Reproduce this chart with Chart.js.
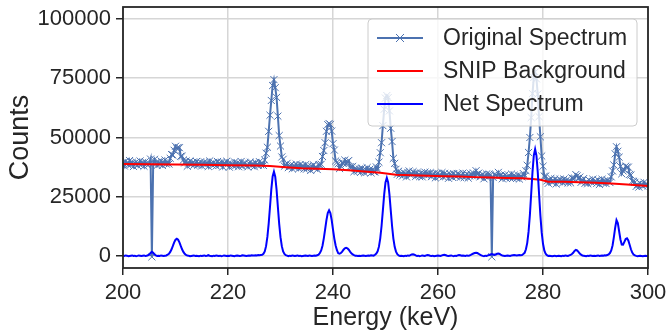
<!DOCTYPE html>
<html>
<head>
<meta charset="utf-8">
<script src="https://cdn.jsdelivr.net/npm/chart.js@4.4.1/dist/chart.umd.min.js"></script>
<style>
  html, body { margin: 0; padding: 0; background: #fff; }
  canvas { display: block; }
</style>
</head>
<body>
<canvas id="spectrumChart" width="669" height="333"></canvas>
<script>
// channel calibration: 200 keV + 0.25 keV per channel
const ENERGY_START = 200;
const ENERGY_STEP = 0.25;

// measured counts, one row = 5 keV (20 channels)
const ORIGINAL_COUNTS = [
  39300,38000,40000,39100,38400,40300,38600,39500,37800,39200,39700,38200,39000,40100,38500,39400,37900,39800,38900,38300,
  39000,40900,-300,39000,40800,39400,38200,39700,38800,40100,38200,39300,40500,38800,39600,38800,41200,42800,42600,44600,
  46300,45400,45800,45700,42100,42100,40500,39300,40100,37900,39200,40100,38600,39500,38300,38900,39900,38300,39100,39700,
  38000,39100,39700,38500,39400,37800,40100,39000,38300,39500,38800,38000,39900,39200,38400,39600,37600,39300,38900,40000,
  38900,37500,39200,38600,38000,39700,38200,39300,37700,38800,39900,37900,38700,39400,38300,37600,39100,39600,38100,39000,
  37700,39500,38600,38200,39800,38500,39300,38200,40500,43400,45900,52600,59400,65600,71900,74400,71000,66900,59000,50800,
  46400,41800,40800,37900,38500,39100,37300,38100,38400,36800,38100,37300,38800,38000,36900,38600,37400,38100,36800,38500,
  36800,38000,37400,36100,37700,38500,37100,37600,36500,38400,38400,38700,42000,44500,47800,52600,55400,55900,55500,52700,
  47400,44700,40100,39500,38900,36900,38000,39400,39100,40500,38900,39900,40300,37700,37500,37800,35600,37000,36700,35800,
  36700,35300,37100,36300,35100,36400,37300,35800,36600,35100,36500,35600,35500,37600,36600,39600,43600,47800,55000,61900,
  66600,67700,66800,61200,53900,48300,41200,39100,36600,34500,35800,34200,34900,33800,35200,34800,33400,35300,35900,34200,
  34500,35600,34900,33600,35200,34300,33500,35000,33400,34600,35400,34000,35100,34300,35200,33500,34400,34800,33000,34700,
  34900,33500,34000,35200,33400,34900,34000,34300,32800,34600,34300,33200,34800,33900,33500,34800,34700,33200,34000,35000,
  33100,33800,34700,32900,33800,34700,33900,35000,33800,36000,34500,35000,33400,34100,34400,32600,33800,34600,33300,34600,
  34200,-300,33200,34500,34000,33700,35300,33900,34200,32600,33600,34200,32800,33500,34000,32900,34600,32800,34100,33700,
  32800,34000,32500,33700,33400,34800,33700,36000,38300,43700,50000,58400,68500,75300,77600,74700,68300,58800,50300,42200,
  37900,33700,33700,31700,30700,32100,32800,31100,31800,32500,30400,32000,31500,32400,31700,30900,32500,31300,32100,30900,
  31800,30900,33000,32700,32900,34400,33800,32700,33300,31100,31900,32700,30700,31400,30500,32100,31600,31000,32400,31200,
  31600,30700,32100,30200,31300,32400,30800,31800,30600,32100,31400,31000,33400,35900,38400,43100,46100,44200,41700,37800,
  34700,35900,36400,37900,37500,37500,34400,34200,31600,31500,31100,29400,30200,29100,30800,30100,29500,31100,30000,30400,
  29700
];

const NET_COUNTS = [
  200,100,300,200,0,100,200,300,100,200,0,100,300,200,100,200,300,100,200,400,
  600,1300,1800,1400,700,300,100,200,100,300,200,100,200,300,600,1000,1800,2900,4300,5800,
  6900,7300,6900,5800,4300,2900,1800,1000,500,300,200,0,100,200,300,100,200,100,0,200,
  100,200,300,100,200,400,200,100,0,200,100,300,200,100,200,0,100,300,200,100,
  200,100,300,200,100,0,200,300,200,100,200,400,300,200,100,200,300,200,400,300,
  300,400,300,500,400,500,600,1000,2000,4200,8100,13700,20800,28100,33600,35600,33500,28000,20700,13600,
  8000,4200,2000,900,400,200,0,200,100,300,200,100,200,300,100,200,0,100,200,300,
  200,100,300,200,100,200,300,200,400,600,1300,2400,4400,7500,11300,15200,18200,19300,18200,15200,
  11200,7400,4500,2500,1200,1000,1300,1900,2700,3300,3500,3300,2700,1900,1200,700,400,200,200,100,
  200,100,200,300,200,100,200,300,200,400,300,200,600,1100,2000,4000,7500,12700,19300,26000,
  31100,33000,31100,26000,19300,12700,7400,3900,1900,800,300,100,200,100,0,200,100,300,200,400,
  700,800,600,300,100,200,0,100,300,200,100,300,500,400,200,100,200,0,100,200,
  300,200,100,300,500,600,400,200,100,200,300,100,0,200,100,300,500,400,200,300,
  200,100,300,200,300,500,800,1100,1300,1400,1300,1000,600,300,100,0,200,100,300,500,
  700,900,700,500,700,1000,1100,900,500,300,200,100,200,300,200,100,300,400,500,400,
  300,400,500,400,500,900,1400,2900,5600,10300,17300,26300,35500,42500,45100,42400,35400,26200,17200,10000,
  5200,2400,1000,400,100,200,100,0,100,200,0,100,200,100,0,200,100,300,200,100,
  300,500,900,1400,2200,2600,2400,1800,1100,600,300,200,100,0,200,100,300,200,100,200,
  100,200,300,100,200,300,200,400,300,500,700,1300,2400,4500,8000,12000,15200,14000,10500,7000,
  4900,4800,6000,7200,7500,6600,4800,2900,1500,700,300,100,0,100,200,100,0,100,200,100,
  0
];

// SNIP background estimate
const BG_ENERGY = [200, 205, 210, 215, 220, 225, 228, 231, 234, 237, 240, 243, 246, 249, 252, 255,
  258, 261, 264, 267, 270, 273, 276, 278, 279.5, 281, 284, 287, 290, 293, 296, 300];
const BG_COUNTS = [38800, 38750, 38650, 38500, 38350, 38200, 38000, 37500, 37000, 36800, 36600, 36200,
  35700, 35100, 34300, 34050, 33900, 33700, 33550, 33300, 33100, 32950, 32800, 32500, 32200, 31400,
  31300, 31100, 30900, 30650, 30200, 29550];

const X_TICKS = [200, 220, 240, 260, 280, 300];
const Y_TICKS = [0, 25000, 50000, 75000, 100000];
const LABELS = ["Original Spectrum", "SNIP Background", "Net Spectrum"];

const FONT = '"Liberation Sans", Arial, sans-serif';
const TEXT = "#262626";
const GRID = "#d6d6d6";
const ORIG_COLOR = "#4c72b0";

function toPoints(counts) {
  return counts.map((c, i) => ({ x: ENERGY_START + i * ENERGY_STEP, y: c }));
}

// box around the plot, like matplotlib spines
const framePlugin = {
  id: "frame",
  afterDatasetsDraw(chart) {
    const { ctx, chartArea: a } = chart;
    ctx.save();
    ctx.strokeStyle = TEXT;
    ctx.lineWidth = 1.8;
    ctx.strokeRect(a.left, a.top, a.right - a.left, a.bottom - a.top);
    ctx.restore();
  }
};

// legend box in the upper right corner
const legendPlugin = {
  id: "boxLegend",
  afterDraw(chart) {
    const { ctx, chartArea: a } = chart;
    const left = a.right - 280, top = a.top + 12, w = 269, h = 107;
    ctx.save();
    ctx.beginPath();
    ctx.roundRect(left, top, w, h, 4);
    ctx.fillStyle = "rgba(255,255,255,0.8)";
    ctx.fill();
    ctx.strokeStyle = "#cccccc";
    ctx.lineWidth = 1;
    ctx.stroke();

    chart.data.datasets.forEach((ds, i) => {
      const y = top + 19 + i * 33;
      ctx.strokeStyle = ds.borderColor;
      ctx.lineWidth = ds.borderWidth;
      ctx.beginPath();
      ctx.moveTo(left + 9, y);
      ctx.lineTo(left + 55, y);
      ctx.stroke();
      if (ds.pointRadius > 0) {
        const r = 4;
        ctx.lineWidth = 1;
        ctx.beginPath();
        ctx.moveTo(left + 32 - r, y - r); ctx.lineTo(left + 32 + r, y + r);
        ctx.moveTo(left + 32 - r, y + r); ctx.lineTo(left + 32 + r, y - r);
        ctx.stroke();
      }
      ctx.fillStyle = TEXT;
      ctx.font = "23px " + FONT;
      ctx.textBaseline = "middle";
      ctx.fillText(ds.label, left + 75, y + 1);
    });
    ctx.restore();
  }
};

const ctx = document.getElementById("spectrumChart").getContext("2d");
new Chart(ctx, {
  type: "line",
  data: {
    datasets: [
      {
        label: LABELS[0],
        data: toPoints(ORIGINAL_COUNTS),
        borderColor: ORIG_COLOR,
        borderWidth: 2,
        pointStyle: "crossRot",
        pointRadius: 5,
        pointBorderWidth: 1,
        pointBorderColor: ORIG_COLOR,
        order: 3
      },
      {
        label: LABELS[1],
        data: BG_ENERGY.map((e, i) => ({ x: e, y: BG_COUNTS[i] })),
        borderColor: "#ff0000",
        borderWidth: 2,
        pointRadius: 0,
        order: 2
      },
      {
        label: LABELS[2],
        data: toPoints(NET_COUNTS),
        borderColor: "#0000ff",
        borderWidth: 2,
        pointRadius: 0,
        order: 1
      }
    ]
  },
  options: {
    responsive: false,
    animation: false,
    events: [],
    layout: { padding: { left: 0, right: 21, top: 7, bottom: 0 } },
    plugins: { legend: { display: false }, tooltip: { enabled: false } },
    scales: {
      x: {
        type: "linear",
        min: 200,
        max: 300,
        afterBuildTicks: s => { s.ticks = X_TICKS.map(v => ({ value: v })); },
        afterFit: s => { s.height = 65; s.paddingLeft = 0; s.paddingRight = 0; },
        border: { display: false },
        grid: { color: GRID, lineWidth: 1.5, tickLength: 7, tickColor: TEXT, tickWidth: 1.5 },
        ticks: { color: TEXT, font: { family: FONT, size: 22 }, padding: 5, maxRotation: 0, autoSkip: false },
        title: { display: true, text: "Energy (keV)", color: TEXT, font: { family: FONT, size: 25 }, padding: { top: 0, bottom: 0 } }
      },
      y: {
        type: "linear",
        min: -5000,
        max: 105000,
        afterBuildTicks: s => { s.ticks = Y_TICKS.map(v => ({ value: v })); },
        afterFit: s => { s.width = 123; s.paddingTop = 0; s.paddingBottom = 0; },
        border: { display: false },
        grid: { color: GRID, lineWidth: 1.5, tickLength: 7, tickColor: TEXT, tickWidth: 1.5 },
        ticks: { color: TEXT, font: { family: FONT, size: 22 }, padding: 5, callback: v => String(v) },
        title: { display: true, text: "Counts", color: TEXT, font: { family: FONT, size: 27 }, padding: { top: 4, bottom: 0 } }
      }
    }
  },
  plugins: [framePlugin, legendPlugin]
});
</script>
</body>
</html>
